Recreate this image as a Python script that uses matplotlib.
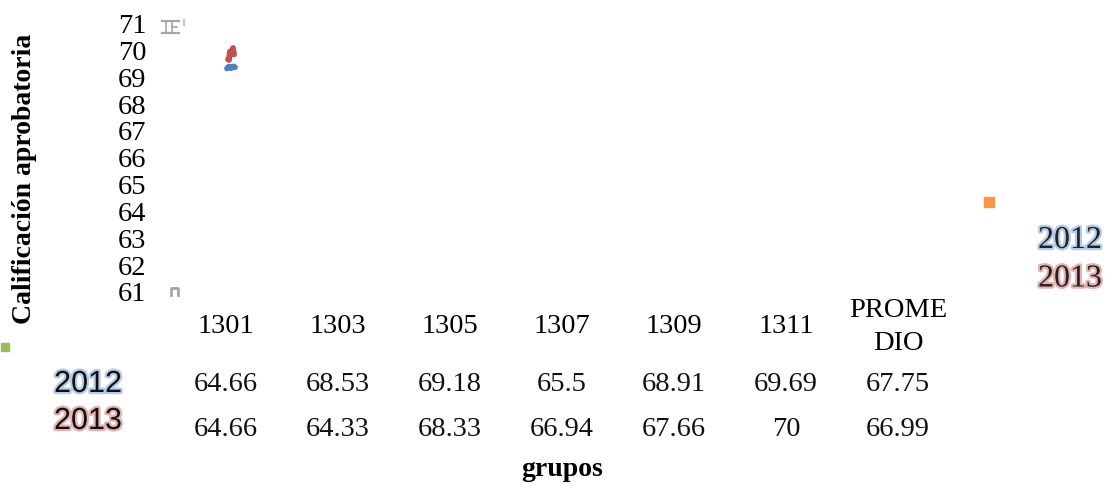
import matplotlib
matplotlib.use("Agg")
import matplotlib.pyplot as plt
import matplotlib.patheffects as pe
from matplotlib.lines import Line2D
from matplotlib.transforms import blended_transform_factory

# Passing-grade averages per group
groups = ["1301", "1303", "1305", "1307", "1309", "1311", "PROME\nDIO"]
years = ["2012", "2013"]
scores_2012 = [64.66, 68.53, 69.18, 65.5, 68.91, 69.69, 67.75]
scores_2013 = [64.66, 64.33, 68.33, 66.94, 67.66, 70, 66.99]
y_ticks = [61, 62, 63, 64, 65, 66, 67, 68, 69, 70, 71]

W, H = 1108, 485
BLUE, RED = "#4f81bd", "#c0504d"
BLUE_GLOW, RED_GLOW = "#b4cce9", "#e6b2b1"
GRAY = "#a6a6a6"
SERIF = ["Liberation Serif", "DejaVu Serif"]
SANS = ["Liberation Sans", "DejaVu Sans"]

fig = plt.figure(figsize=(W / 100, H / 100), dpi=100)
fig.patch.set_facecolor("white")


def box(left, top, width, height):
    return [left / W, 1 - (top + height) / H, width / W, height / H]


# Main axes: value scale and group categories
ax = fig.add_axes(box(170, 23.5, 784, 268.5))
ax.set_xlim(-0.5, len(groups) - 0.5)
ax.set_ylim(min(y_ticks), max(y_ticks))
ax.set_yticks(y_ticks)
ax.set_yticklabels([str(t) for t in y_ticks], family=SERIF, fontsize=20.5)
ax.set_xticks(range(len(groups)))
ax.set_xticklabels(groups, family=SERIF, fontsize=20.5, linespacing=1.4)
for lab in ax.get_xticklabels():
    lab.set_va("center")
ax.tick_params(axis="y", length=0, pad=17)
ax.tick_params(axis="x", length=0, pad=25)
for s in ax.spines.values():
    s.set_visible(False)
ax.set_facecolor("none")

# Data table below the categories
tr = blended_transform_factory(ax.transData, fig.transFigure)
for i in range(len(groups)):
    ax.text(i, 1 - 385 / H, f"{scores_2012[i]:g}", transform=tr, ha="center",
            va="center", family=SERIF, fontsize=20.5, color="#111111")
    ax.text(i, 1 - 430 / H, f"{scores_2013[i]:g}", transform=tr, ha="center",
            va="center", family=SERIF, fontsize=20.5, color="#111111")

# Row headers of the data table
for label, yy, glow in [(years[0], 385, BLUE_GLOW), (years[1], 422, RED_GLOW)]:
    fig.text(88 / W, 1 - yy / H, label, ha="center", va="center", family=SANS,
             fontsize=22, color="#111111",
             path_effects=[pe.withStroke(linewidth=3.2, foreground=glow)])

# Legend entries on the right
for label, yy, glow in [(years[0], 241.5, BLUE_GLOW), (years[1], 280, RED_GLOW)]:
    fig.text(1070 / W, 1 - yy / H, label, ha="center", va="center", family=SERIF,
             fontsize=23, color="#222222",
             path_effects=[pe.withStroke(linewidth=3.2, foreground=glow)])

# Axis titles
fig.text(562 / W, 1 - 470 / H, "grupos", ha="center", va="center",
         family=SERIF, fontsize=20, fontweight="bold")
fig.text(25 / W, 1 - 179 / H, "Calificación aprobatoria", ha="center",
         va="center", rotation=90, family=SERIF, fontsize=20, fontweight="bold")

# Collapsed series lines
ax_red = fig.add_axes(box(228, 49, 6, 12))
ax_red.plot(range(len(groups)), scores_2013, color=RED, lw=4.2,
            solid_capstyle="round", solid_joinstyle="round", clip_on=False)
ax_blue = fig.add_axes(box(227, 67.5, 8, 2))
ax_blue.plot(range(len(groups)), scores_2012, color=BLUE, lw=4.2,
             solid_capstyle="round", solid_joinstyle="round", clip_on=False)
for a in (ax_red, ax_blue):
    a.axis("off")
    a.margins(0)

# Small gray fragments and stray swatches
pix = fig.dpi_scale_trans
def seg(xs, ys, color, lw):
    fig.add_artist(Line2D([x / 100 for x in xs], [(H - y) / 100 for y in ys],
                          transform=pix, color=color, lw=lw))

seg([162, 179], [21.5, 21.5], GRAY, 1.6)
seg([162, 179], [33.5, 33.5], GRAY, 1.6)
seg([166, 166], [21.5, 33.5], GRAY, 1.2)
seg([172, 172], [21.5, 33.5], GRAY, 1.2)
seg([172, 177], [27.5, 27.5], GRAY, 1.2)
seg([184, 184], [21, 26], "#c8c8c8", 1.6)
seg([171, 171, 178, 178], [296, 289, 289, 296], GRAY, 2.0)

fig.add_artist(Line2D([989 / 100], [(H - 203) / 100], transform=pix,
                      marker="s", markersize=7, color="#f79646",
                      markeredgecolor="#f79646"))
fig.add_artist(Line2D([5 / 100], [(H - 348) / 100], transform=pix,
                      marker="s", markersize=6, color="#9bbb59",
                      markeredgecolor="#9bbb59"))

fig.savefig("out.png", dpi=100)
